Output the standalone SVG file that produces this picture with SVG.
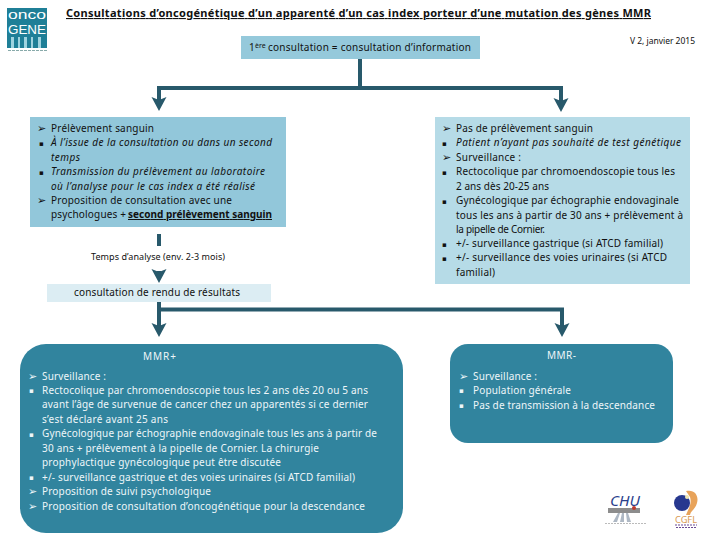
<svg xmlns="http://www.w3.org/2000/svg" width="720" height="540" viewBox="0 0 720 540">
<style>
text{font-family:"Noto Sans","Open Sans","Liberation Sans",sans-serif;font-size:10px;fill:#111}
.i{font-style:italic}
.b{font-weight:700}
.u{text-decoration:underline}
.w{fill:#eef6f9}
.g{font-family:"DejaVu Sans",sans-serif;font-size:7px}
.k{font-family:"DejaVu Sans",sans-serif;font-size:11px}
.c{fill:none;stroke:#28596b;stroke-width:4}
.a{marker-end:url(#h)}
.l{font-family:"Liberation Sans",sans-serif;font-size:13px;fill:#fff}
</style>
<defs>
<marker id="h" markerUnits="userSpaceOnUse" markerWidth="16" markerHeight="16" refX="6" refY="8" orient="auto" viewBox="0 0 16 16"><path d="M0,.5 L14,8 L0,15.500 L3,8 Z" fill="#28596b"/></marker>
</defs>
<rect width="720" height="540" fill="#fff"/>

<g id="logo-oncogene">
<rect x="7" y="8" width="40" height="40" fill="#1f7f97"/>
<text class="l" x="8" y="19" textLength="38" lengthAdjust="spacingAndGlyphs">onco</text>
<text class="l" x="8" y="34" textLength="38" lengthAdjust="spacingAndGlyphs">GENE</text>
<path d="M11,37h3v11h-3zM18,37h2v11h-2zM24,37h3v11h-3zM31,37h2v11h-2zM38,37h3v11h-3z" fill="#9fd3df"/>
<path d="M8,50.500H47" stroke="#8aa" stroke-width="1" stroke-dasharray="3 1"/>
</g>

<g id="title"><text class="b u" x="66" y="17" textLength="585" style="font-size:11px">Consultations d’oncogénétique d’un apparenté d’un cas index porteur d’une mutation des gènes MMR</text></g>
<g id="version"><text x="630" y="44" textLength="65" style="font-size:8.500px">V 2, janvier 2015</text></g>

<g id="connectors">
<path class="c" d="M360,59V88"/>
<path class="c a" d="M360,88H159V103"/>
<path class="c a" d="M360,88H561V104"/>
<path class="c" d="M159,234V246"/>
<path class="c a" d="M159,271V275"/>
<path class="c a" d="M159,302V329"/>
<path class="c a" d="M159,309.500H562V329"/>
</g>

<g id="node-first">
<rect x="241" y="36" width="239" height="23" fill="#95c9db"/>
<text x="249" y="51">1</text><text x="255" y="47.500" style="font-size:7px">ère</text>
<text x="268" y="51" textLength="203">consultation = consultation d’information</text>
</g>

<g id="node-prelevement">
<rect x="30" y="117" width="256" height="110" fill="#92c7da"/>
<text class="k" x="37" y="132">➢</text><text x="51" y="131.500" textLength="103">Prélèvement sanguin</text>
<text class="g" x="39" y="146">▪</text><text class="i" x="51" y="146" textLength="221">À l’issue de la consultation ou dans un second</text>
<text class="i" x="51" y="161" textLength="29">temps</text>
<text class="g" x="39" y="175">▪</text><text class="i" x="51" y="175" textLength="214">Transmission du prélèvement au laboratoire</text>
<text class="i" x="51" y="189.500" textLength="204">où l’analyse pour le cas index a été réalisé</text>
<text class="k" x="37" y="204">➢</text><text x="51" y="203.500" textLength="181">Proposition de consultation avec une</text>
<text x="51" y="218" textLength="75">psychologues +</text>
<text class="b u" x="128" y="218" textLength="144">second prélèvement sanguin</text>
</g>

<g id="node-temps"><text x="91" y="260" textLength="134" style="font-size:9px">Temps d’analyse (env. 2-3 mois)</text></g>

<g id="node-rendu">
<rect x="47" y="284" width="224" height="18" fill="#dcedf3"/>
<text x="74" y="295.500" textLength="166">consultation de rendu de résultats</text>
</g>

<g id="node-sans-prelevement">
<rect x="435" y="117" width="255" height="167" fill="#b6dbe7"/>
<text class="k" x="442" y="132">➢</text><text x="456" y="131.500" textLength="137">Pas de prélèvement sanguin</text>
<text class="g" x="442" y="146">▪</text><text class="i" x="456" y="146" textLength="225">Patient n’ayant pas souhaité de test génétique</text>
<text class="k" x="442" y="161">➢</text><text x="456" y="161" textLength="65">Surveillance :</text>
<text class="g" x="442" y="175">▪</text><text x="456" y="175" textLength="219">Rectocolique par chromoendoscopie tous les</text>
<text x="456" y="189.500" textLength="93">2 ans dès 20-25 ans</text>
<text class="g" x="442" y="204">▪</text><text x="456" y="204" textLength="223">Gynécologique par échographie endovaginale</text>
<text x="456" y="218.500" textLength="227">tous les ans à partir de 30 ans + prélèvement à</text>
<text x="456" y="232.500" textLength="89">la pipelle de Cornier.</text>
<text class="g" x="442" y="247">▪</text><text x="456" y="247" textLength="207">+/- surveillance gastrique (si ATCD familial)</text>
<text class="g" x="442" y="261">▪</text><text x="456" y="261" textLength="211">+/- surveillance des voies urinaires (si ATCD</text>
<text x="456" y="276" textLength="39">familial)</text>
</g>

<g id="node-mmr-plus">
<rect x="20" y="344" width="383" height="189" rx="26" fill="#31849e"/>
<text class="w" x="143" y="359.500" textLength="33">MMR+</text>
<text class="k w" x="28" y="380">➢</text><text class="w" x="42" y="379.500" textLength="64">Surveillance :</text>
<text class="g w" x="29" y="393">▪</text><text class="w" x="42" y="393.500" textLength="326">Rectocolique par chromoendoscopie tous les 2 ans dès 20 ou 5 ans</text>
<text class="w" x="42" y="408" textLength="326">avant l’âge de survenue de cancer chez un apparentés si ce dernier</text>
<text class="w" x="42" y="422.500" textLength="126">s’est déclaré avant 25 ans</text>
<text class="g w" x="29" y="437">▪</text><text class="w" x="42" y="437" textLength="335">Gynécologique par échographie endovaginale tous les ans à partir de</text>
<text class="w" x="42" y="451.500" textLength="277">30 ans + prélèvement à la pipelle de Cornier. La chirurgie</text>
<text class="w" x="42" y="466" textLength="239">prophylactique gynécologique peut être discutée</text>
<text class="g w" x="29" y="480">▪</text><text class="w" x="42" y="480.500" textLength="313">+/- surveillance gastrique et des voies urinaires (si ATCD familial)</text>
<text class="k w" x="28" y="495">➢</text><text class="w" x="42" y="495" textLength="169">Proposition de suivi psychologique</text>
<text class="k w" x="28" y="510">➢</text><text class="w" x="42" y="509.500" textLength="323">Proposition de consultation d’oncogénétique pour la descendance</text>
</g>

<g id="node-mmr-minus">
<rect x="450" y="344" width="223" height="99" rx="18" fill="#31849e"/>
<text class="w" x="547" y="358.500" textLength="29">MMR-</text>
<text class="k w" x="459" y="380">➢</text><text class="w" x="473" y="379.500" textLength="64">Surveillance :</text>
<text class="g w" x="459" y="393">▪</text><text class="w" x="473" y="393.500" textLength="98">Population générale</text>
<text class="g w" x="459" y="408">▪</text><text class="w" x="473" y="408.500" textLength="182">Pas de transmission à la descendance</text>
</g>

<g id="logo-chu">
<text x="610" y="506" textLength="30" lengthAdjust="spacingAndGlyphs" style="font-size:15px;font-style:italic;fill:#2b3f8c">CHU</text>
<path d="M608,508H640V513H608Z" fill="#8d8d8d"/>
<circle cx="634" cy="508" r="2" fill="#c0392b"/>
<path d="M613,522L618,513H620L617,522ZM620,522L622,513H624L624,522ZM627,522L626,513H628L631,522Z" fill="#aeb8c4"/>
<path d="M605,523.500H647" stroke="#bbb" stroke-dasharray="2 1"/>
</g>

<g id="logo-cgfl">
<path d="M686,491C695,489 699,496 697,503C695,510 691,510 690,515H686C689,508 692,503 690,497Z" fill="#e8a35a"/>
<circle cx="682" cy="503" r="8" fill="#27388f"/>
<circle cx="687" cy="497" r="2" fill="#f0e6b0"/>
<text x="675" y="523" textLength="22" lengthAdjust="spacingAndGlyphs" style="font-size:9px;fill:#d99a55">CGFL</text>
<path d="M675,525H697M676,527.500H696" stroke="#6a4a94" stroke-dasharray="2 1"/>
</g>
</svg>
